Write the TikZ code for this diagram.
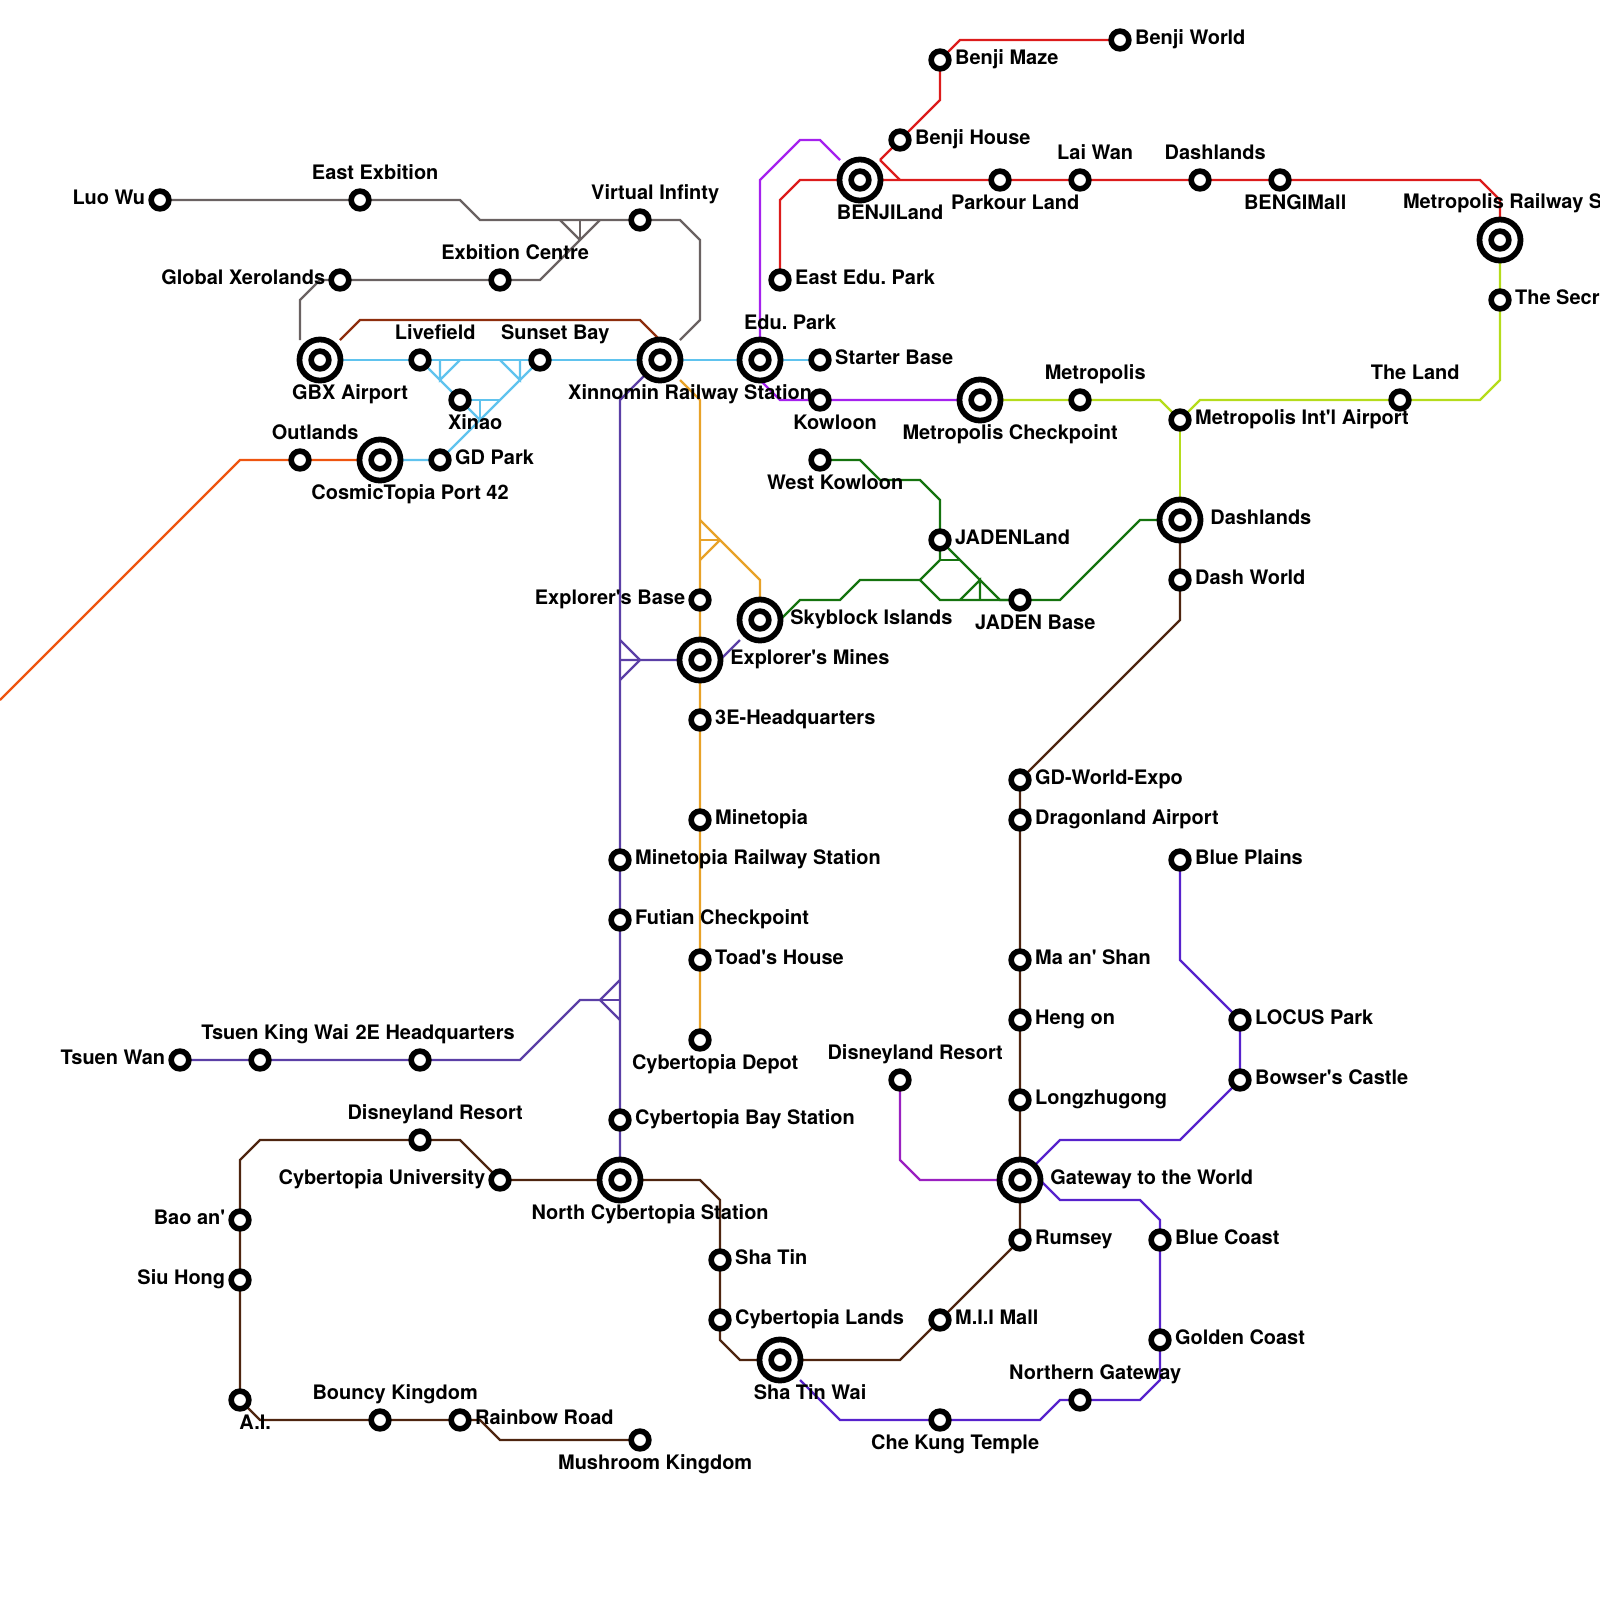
\documentclass[tikz,border=0pt]{standalone}
\usepackage{fontspec}
\newfontfamily\mapfont{TeX Gyre Heros}
\pgfdeclarelayer{lines}
\pgfsetlayers{lines,main}
\definecolor{skyline}{HTML}{60C3EE}
\definecolor{greyline}{HTML}{6A6262}
\definecolor{rustline}{HTML}{8E2E0E}
\definecolor{goldline}{HTML}{E8A228}
\definecolor{indigoline}{HTML}{5B3FA6}
\definecolor{redline}{HTML}{DC1C1C}
\definecolor{violetline}{HTML}{A521EE}
\definecolor{limeline}{HTML}{B5DC1C}
\definecolor{greenline}{HTML}{15730F}
\definecolor{brownline}{HTML}{4E2510}
\definecolor{blueline}{HTML}{5722CC}
\definecolor{plumline}{HTML}{9A20C0}
\definecolor{orangeline}{HTML}{EE5510}
\tikzset{
  rail/.style={line width=0.85pt},
  stop/.style={circle,draw=black,fill=white,line width=2pt,minimum size=6.3pt,inner sep=0pt,outer sep=0pt},
  hub/.style={circle,draw=black,fill=white,line width=2.05pt,minimum size=14.6pt,inner sep=0pt,outer sep=0pt,
    path picture={\draw[line width=2pt] (path picture bounding box.center) circle (3.15pt);}},
  txt/.style={font=\mapfont\bfseries\fontsize{7.1pt}{8pt}\selectfont\frenchspacing,inner sep=0pt,outer sep=0pt},
  tright/.style={txt,anchor=base west,xshift=5.4pt,yshift=-1.72pt},
  tleft/.style={txt,anchor=base east,xshift=-5.3pt,yshift=-1.72pt},
  tabove/.style={txt,anchor=base,xshift=5.4pt,yshift=7.18pt},
  tbelow/.style={txt,anchor=base,xshift=5.4pt,yshift=-10.62pt},
  hright/.style={txt,anchor=base west,xshift=10.8pt,yshift=-1.72pt},
  habove/.style={txt,anchor=base,xshift=10.7pt,yshift=10.78pt},
  hbelow/.style={txt,anchor=base,xshift=10.7pt,yshift=-14.12pt}
}
\begin{document}
\begin{tikzpicture}[x=0.25cm,y=-0.25cm]
\useasboundingbox (0,0) rectangle (80,80);

% stations, top of the map first
\node[stop] (bworld) at (56,2) {};
\node[stop] (bmaze) at (47,3) {};
\node[stop] (bhouse) at (45,7) {};
\node[hub] (bland) at (43,9) {};
\node[stop] (parkour) at (50,9) {};
\node[stop] (laiwan) at (54,9) {};
\node[stop] (dashn) at (60,9) {};
\node[stop] (bengi) at (64,9) {};
\node[hub] (metrail) at (75,12) {};
\node[stop] (secret) at (75,15) {};
\node[stop] (eastedu) at (39,14) {};
\node[hub] (edupark) at (38,18) {};
\node[stop] (starter) at (41,18) {};
\node[stop] (kowloon) at (41,20) {};
\node[hub] (metcheck) at (49,20) {};
\node[stop] (metro) at (54,20) {};
\node[stop] (metair) at (59,21) {};
\node[stop] (theland) at (70,20) {};
\node[hub] (dashhub) at (59,26) {};
\node[stop] (dashworld) at (59,29) {};
\node[stop] (wkowloon) at (41,23) {};
\node[stop] (jland) at (47,27) {};
\node[stop] (jbase) at (51,30) {};
\node[hub] (skyblock) at (38,31) {};
\node[hub] (mines) at (35,33) {};
\node[stop] (expbase) at (35,30) {};
\node[stop] (threee) at (35,36) {};
\node[stop] (minetopia) at (35,41) {};
\node[stop] (minerail) at (31,43) {};
\node[stop] (futian) at (31,46) {};
\node[stop] (toad) at (35,48) {};
\node[stop] (depot) at (35,52) {};
\node[stop] (cbay) at (31,56) {};
\node[hub] (ncyber) at (31,59) {};
\node[hub] (xinnomin) at (33,18) {};
\node[hub] (gbx) at (16,18) {};
\node[stop] (livefield) at (21,18) {};
\node[stop] (sunset) at (27,18) {};
\node[stop] (xinao) at (23,20) {};
\node[stop] (gdpark) at (22,23) {};
\node[hub] (cosmic) at (19,23) {};
\node[stop] (outlands) at (15,23) {};
\node[stop] (luowu) at (8,10) {};
\node[stop] (eastex) at (18,10) {};
\node[stop] (virtual) at (32,11) {};
\node[stop] (exbition) at (25,14) {};
\node[stop] (global) at (17,14) {};
\node[stop] (tsuenwan) at (9,53) {};
\node[stop] (tsuenking) at (13,53) {};
\node[stop] (twoe) at (21,53) {};
\node[stop] (disneyw) at (21,57) {};
\node[stop] (cyberuni) at (25,59) {};
\node[stop] (baoan) at (12,61) {};
\node[stop] (siuhong) at (12,64) {};
\node[stop] (ai) at (12,70) {};
\node[stop] (bouncy) at (19,71) {};
\node[stop] (rainbow) at (23,71) {};
\node[stop] (mushroom) at (32,72) {};
\node[stop] (shatin) at (36,63) {};
\node[stop] (cyberlands) at (36,66) {};
\node[hub] (shatinwai) at (39,68) {};
\node[stop] (miimall) at (47,66) {};
\node[stop] (rumsey) at (51,62) {};
\node[hub] (gateway) at (51,59) {};
\node[stop] (longzhu) at (51,55) {};
\node[stop] (hengon) at (51,51) {};
\node[stop] (maan) at (51,48) {};
\node[stop] (dragon) at (51,41) {};
\node[stop] (gdworld) at (51,39) {};
\node[stop] (blueplains) at (59,43) {};
\node[stop] (locus) at (62,51) {};
\node[stop] (bowser) at (62,54) {};
\node[stop] (bluecoast) at (58,62) {};
\node[stop] (golden) at (58,67) {};
\node[stop] (northern) at (54,70) {};
\node[stop] (chekung) at (47,71) {};
\node[stop] (disneye) at (45,54) {};

% branch points
\coordinate (gj) at (29,12);
\coordinate (ga) at (28,11);
\coordinate (gb) at (29,11);
\coordinate (gc) at (30,11);
\coordinate (gd) at (34,17);
\coordinate (ge) at (15,17);
\coordinate (la) at (22,19);
\coordinate (lb) at (22,18);
\coordinate (lc) at (23,18);
\coordinate (sa) at (26,19);
\coordinate (sb) at (25,18);
\coordinate (sc) at (26,18);
\coordinate (xa) at (24,21);
\coordinate (xb) at (24,20);
\coordinate (xc) at (25,20);
\coordinate (ta) at (17,17);
\coordinate (ra) at (44,8);
\coordinate (rb) at (45,9);
\coordinate (va) at (42,8);
\coordinate (oj) at (36,27);
\coordinate (oa) at (35,26);
\coordinate (ob) at (35,27);
\coordinate (oc) at (35,28);
\coordinate (od) at (34,19);
\coordinate (ij) at (32,33);
\coordinate (ia) at (31,32);
\coordinate (ib) at (31,33);
\coordinate (ic) at (31,34);
\coordinate (id) at (37,32);
\coordinate (kj) at (30,50);
\coordinate (ka) at (31,49);
\coordinate (kb) at (31,50);
\coordinate (kc) at (31,51);
\coordinate (ja) at (47,28);
\coordinate (jb) at (48,28);
\coordinate (jc) at (46,29);
\coordinate (jd) at (49,29);
\coordinate (je) at (48,30);
\coordinate (jf) at (49,30);
\coordinate (jg) at (50,30);
\coordinate (ba) at (40,69);

% lines go under the stations
\begin{pgfonlayer}{lines}
\draw[rail,orangeline] (0,35) -- (12,23) -- (outlands) -- (cosmic);

\draw[rail,skyline] (gbx) -- (livefield) -- (sunset) -- (xinnomin) -- (edupark) -- (starter);
\draw[rail,skyline] (cosmic) -- (gdpark) -- (sunset);
\draw[rail,skyline] (livefield) -- (xa);
\draw[rail,skyline] (lb) -- (la) -- (lc);
\draw[rail,skyline] (sb) -- (sa) -- (sc);
\draw[rail,skyline] (xinao) -- (xc);
\draw[rail,skyline] (xb) -- (xa);

\draw[rail,greyline] (luowu) -- (eastex) -- (23,10) -- (24,11) -- (virtual) -- (34,11) -- (35,12) -- (35,16) -- (gd);
\draw[rail,greyline] (ge) -- (15,15) -- (16,14) -- (global) -- (exbition) -- (27,14) -- (gc);
\draw[rail,greyline] (ga) -- (gj);
\draw[rail,greyline] (gb) -- (gj);

\draw[rail,rustline] (ta) -- (18,16) -- (32,16) -- (33,17) -- (xinnomin);

\draw[rail,goldline] (od) -- (35,20) -- (expbase) -- (mines) -- (threee) -- (minetopia) -- (toad) -- (depot);
\draw[rail,goldline] (oa) -- (oj) -- (38,29) -- (skyblock);
\draw[rail,goldline] (ob) -- (oj);
\draw[rail,goldline] (oc) -- (oj);

\draw[rail,indigoline] (xinnomin) -- (31,20) -- (minerail) -- (futian) -- (cbay) -- (ncyber);
\draw[rail,indigoline] (ia) -- (ij) -- (ic);
\draw[rail,indigoline] (ib) -- (ij) -- (mines) -- (36,33) -- (id);
\draw[rail,indigoline] (tsuenwan) -- (tsuenking) -- (twoe) -- (26,53) -- (29,50) -- (kj) -- (ka);
\draw[rail,indigoline] (kj) -- (kb);
\draw[rail,indigoline] (kj) -- (kc);

\draw[rail,redline] (bworld) -- (48,2) -- (bmaze) -- (47,5) -- (bhouse) -- (ra);
\draw[rail,redline] (eastedu) -- (39,10) -- (40,9) -- (bland) -- (parkour) -- (laiwan) -- (dashn) -- (bengi) -- (74,9) -- (75,10) -- (metrail);
\draw[rail,redline] (ra) -- (rb);

\draw[rail,violetline] (edupark) -- (38,9) -- (40,7) -- (41,7) -- (va);
\draw[rail,violetline] (edupark) -- (38,19) -- (39,20) -- (kowloon) -- (metcheck);

\draw[rail,limeline] (metcheck) -- (metro) -- (58,20) -- (metair) -- (60,20) -- (theland) -- (74,20) -- (75,19) -- (secret) -- (metrail);
\draw[rail,limeline] (metair) -- (dashhub);

\draw[rail,greenline] (wkowloon) -- (43,23) -- (44,24) -- (46,24) -- (47,25) -- (jland) -- (ja) -- (jc) -- (47,30) -- (jbase) -- (53,30) -- (57,26) -- (dashhub);
\draw[rail,greenline] (skyblock) -- (39,31) -- (40,30) -- (42,30) -- (43,29) -- (jc);
\draw[rail,greenline] (jland) -- (jg) -- (jbase);
\draw[rail,greenline] (ja) -- (jb);
\draw[rail,greenline] (je) -- (jd) -- (jf);

\draw[rail,brownline] (dashhub) -- (dashworld) -- (59,31) -- (gdworld) -- (dragon) -- (maan) -- (hengon) -- (longzhu) -- (gateway) -- (rumsey) -- (miimall) -- (45,68) -- (shatinwai) -- (37,68) -- (36,67) -- (cyberlands) -- (shatin) -- (36,60) -- (35,59) -- (ncyber) -- (cyberuni) -- (23,57) -- (disneyw) -- (13,57) -- (12,58) -- (baoan) -- (siuhong) -- (ai) -- (13,71) -- (bouncy) -- (rainbow) -- (24,71) -- (25,72) -- (mushroom);

\draw[rail,blueline] (blueplains) -- (59,48) -- (locus) -- (bowser) -- (59,57) -- (53,57) -- (52,58) -- (gateway);
\draw[rail,blueline] (gateway) -- (52,59) -- (53,60) -- (57,60) -- (58,61) -- (bluecoast) -- (golden) -- (58,69) -- (57,70) -- (northern) -- (53,70) -- (52,71) -- (chekung) -- (42,71) -- (ba);

\draw[rail,plumline] (disneye) -- (45,58) -- (46,59) -- (gateway);
\end{pgfonlayer}

% labels
\node[tright] (bworldt) at (bworld) {Benji World};
\node[tright] (bmazet) at (bmaze) {Benji Maze};
\node[tright] (bhouset) at (bhouse) {Benji House};
\node[hbelow] (blandt) at (bland) {BENJILand};
\node[tbelow] (parkourt) at (parkour) {Parkour Land};
\node[tabove] (laiwant) at (laiwan) {Lai Wan};
\node[tabove] (dashnt) at (dashn) {Dashlands};
\node[tbelow] (bengit) at (bengi) {BENGIMall};
\node[txt,anchor=base west] (metrailt) at (70.15,10.43) {Metropolis Railway S};
\node[tright] (secrett) at (secret) {The Secr};
\node[tright] (eastedut) at (eastedu) {East Edu. Park};
\node[habove] (eduparkt) at (edupark) {Edu. Park};
\node[tright] (startert) at (starter) {Starter Base};
\node[tbelow] (kowloont) at (kowloon) {Kowloon};
\node[hbelow] (metcheckt) at (metcheck) {Metropolis Checkpoint};
\node[tabove] (metrot) at (metro) {Metropolis};
\node[tright] (metairt) at (metair) {Metropolis Int'l Airport};
\node[tabove] (thelandt) at (theland) {The Land};
\node[hright] (dashhubt) at (dashhub) {Dashlands};
\node[tright] (dashworldt) at (dashworld) {Dash World};
\node[tbelow] (wkowloont) at (wkowloon) {West Kowloon};
\node[tright] (jlandt) at (jland) {JADENLand};
\node[tbelow] (jbaset) at (jbase) {JADEN Base};
\node[hright] (skyblockt) at (skyblock) {Skyblock Islands};
\node[hright] (minest) at (mines) {Explorer's Mines};
\node[tleft] (expbaset) at (expbase) {Explorer's Base};
\node[tright] (threeet) at (threee) {3E-Headquarters};
\node[tright] (minetopiat) at (minetopia) {Minetopia};
\node[tright] (minerailt) at (minerail) {Minetopia Railway Station};
\node[tright] (futiant) at (futian) {Futian Checkpoint};
\node[tright] (toadt) at (toad) {Toad's House};
\node[tbelow] (depott) at (depot) {Cybertopia Depot};
\node[tright] (cbayt) at (cbay) {Cybertopia Bay Station};
\node[hbelow] (ncybert) at (ncyber) {North Cybertopia Station};
\node[hbelow] (xinnomint) at (xinnomin) {Xinnomin Railway Station};
\node[hbelow] (gbxt) at (gbx) {GBX Airport};
\node[tabove] (livefieldt) at (livefield) {Livefield};
\node[tabove] (sunsett) at (sunset) {Sunset Bay};
\node[tbelow] (xinaot) at (xinao) {Xinao};
\node[tright] (gdparkt) at (gdpark) {GD Park};
\node[hbelow] (cosmict) at (cosmic) {CosmicTopia Port 42};
\node[tabove] (outlandst) at (outlands) {Outlands};
\node[tleft] (luowut) at (luowu) {Luo Wu};
\node[tabove] (eastext) at (eastex) {East Exbition};
\node[tabove] (virtualt) at (virtual) {Virtual Infinty};
\node[tabove] (exbitiont) at (exbition) {Exbition Centre};
\node[tleft] (globalt) at (global) {Global Xerolands};
\node[tleft] (tsuenwant) at (tsuenwan) {Tsuen Wan};
\node[tabove] (tsuenkingt) at (tsuenking) {Tsuen King Wai};
\node[tabove] (twoet) at (twoe) {2E Headquarters};
\node[tabove] (disneywt) at (disneyw) {Disneyland Resort};
\node[tleft] (cyberunit) at (cyberuni) {Cybertopia University};
\node[tleft] (baoant) at (baoan) {Bao an'};
\node[tleft] (siuhongt) at (siuhong) {Siu Hong};
\node[tbelow] (ait) at (ai) {A.I.};
\node[tabove] (bouncyt) at (bouncy) {Bouncy Kingdom};
\node[tright] (rainbowt) at (rainbow) {Rainbow Road};
\node[tbelow] (mushroomt) at (mushroom) {Mushroom Kingdom};
\node[tright] (shatint) at (shatin) {Sha Tin};
\node[tright] (cyberlandst) at (cyberlands) {Cybertopia Lands};
\node[hbelow] (shatinwait) at (shatinwai) {Sha Tin Wai};
\node[tright] (miimallt) at (miimall) {M.I.I Mall};
\node[tright] (rumseyt) at (rumsey) {Rumsey};
\node[hright] (gatewayt) at (gateway) {Gateway to the World};
\node[tright] (longzhut) at (longzhu) {Longzhugong};
\node[tright] (hengont) at (hengon) {Heng on};
\node[tright] (maant) at (maan) {Ma an' Shan};
\node[tright] (dragont) at (dragon) {Dragonland Airport};
\node[tright] (gdworldt) at (gdworld) {GD-World-Expo};
\node[tright] (blueplainst) at (blueplains) {Blue Plains};
\node[tright] (locust) at (locus) {LOCUS Park};
\node[tright] (bowsert) at (bowser) {Bowser's Castle};
\node[tright] (bluecoastt) at (bluecoast) {Blue Coast};
\node[tright] (goldent) at (golden) {Golden Coast};
\node[tabove] (northernt) at (northern) {Northern Gateway};
\node[tbelow] (chekungt) at (chekung) {Che Kung Temple};
\node[tabove] (disneyet) at (disneye) {Disneyland Resort};
\end{tikzpicture}
\end{document}
